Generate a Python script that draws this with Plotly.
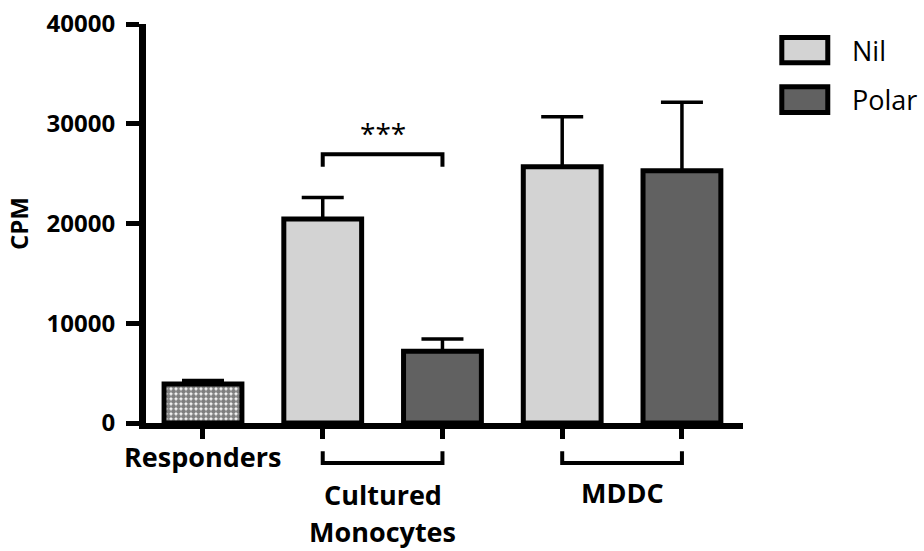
import plotly.graph_objects as go

# ---- data ----
groups = ["Responders", "Cultured<br>Monocytes", "MDDC"]
series = ["Nil", "Polar"]
responders_value = [3900]
responders_err = [350]
nil_values = [20450, 25700]
nil_errs = [2150, 5000]
polar_values = [7200, 25300]
polar_errs = [1220, 6850]
y_ticks = [0, 10000, 20000, 30000, 40000]
sig_label = "***"

# bar positions (numeric slots)
resp_x = [0]
nil_x = [1, 3]
polar_x = [2, 4]
group_centers = [0, 1.5, 3.5]

NIL_COLOR = "#d3d3d3"
POLAR_COLOR = "#616161"
FONT = "Open Sans"
BW = 0.65

fig = go.Figure()

def err(arr):
    return dict(type="data", array=arr, arrayminus=[0] * len(arr), symmetric=False,
                color="black", thickness=3.5, width=21)

fig.add_trace(go.Bar(
    x=resp_x, y=responders_value, width=BW, showlegend=False, name="Responders",
    marker=dict(color="white", line=dict(color="black", width=5),
                pattern=dict(shape=".", fgcolor="black", bgcolor="white", size=5,
                             solidity=0.75, fillmode="overlay")),
    error_y=err(responders_err)))
fig.add_trace(go.Bar(
    x=nil_x, y=nil_values, width=BW, name=series[0], showlegend=False,
    marker=dict(color=NIL_COLOR, line=dict(color="black", width=5)),
    error_y=err(nil_errs)))
fig.add_trace(go.Bar(
    x=polar_x, y=polar_values, width=BW, name=series[1], showlegend=False,
    marker=dict(color=POLAR_COLOR, line=dict(color="black", width=5)),
    error_y=err(polar_errs)))

fig.update_layout(
    width=924, height=551,
    margin=dict(l=146, r=181, t=24, b=128, pad=0, autoexpand=False),
    plot_bgcolor="white", paper_bgcolor="white",
    barmode="overlay",
    font=dict(family=FONT, color="black"),
    xaxis=dict(range=[-0.476, 4.51], tickvals=resp_x + nil_x + polar_x,
               ticktext=[""] * 5, ticks="outside", ticklen=10, tickwidth=5,
               tickcolor="black", showline=True, linecolor="black", linewidth=6,
               showgrid=False, zeroline=False, automargin=False),
    yaxis=dict(range=[0, 40000], tickvals=y_ticks, tickformat="d",
               ticks="outside", ticklen=13, tickwidth=5, tickcolor="black",
               showline=True, linecolor="black", linewidth=7, showgrid=False,
               zeroline=False, ticklabelstandoff=6, automargin=False,
               tickfont=dict(family=FONT, size=24, color="black", weight="bold"),
               title=dict(text="<b>CPM</b>", font=dict(family=FONT, size=24), standoff=14)),
)

# significance bracket between cultured Nil and Polar
sig_y = 26950
sig_drop = 1250
fig.add_shape(type="path", xref="x", yref="y",
              path=f"M {nil_x[0]},{sig_y - sig_drop} L {nil_x[0]},{sig_y} L {polar_x[0]},{sig_y} L {polar_x[0]},{sig_y - sig_drop}",
              line=dict(color="black", width=4))
fig.add_annotation(x=(nil_x[0] + polar_x[0]) / 2, y=sig_y, xref="x", yref="y",
                   text=sig_label, showarrow=False, yanchor="bottom", yshift=0,
                   font=dict(family=FONT, size=28, color="black"))

# group brackets under axis
for a, b in zip(nil_x, polar_x):
    fig.add_shape(type="path", xref="x", yref="paper",
                  path=f"M {a},-0.071 L {a},-0.1 L {b},-0.1 L {b},-0.071",
                  line=dict(color="black", width=4))

# group labels (one annotation per text line)
label_y = [-0.084, -0.178, -0.175]
for gx, gl, gy in zip(group_centers, groups, label_y):
    for i, line in enumerate(gl.split("<br>")):
        fig.add_annotation(x=gx, y=gy, xref="x", yref="paper", text=f"<b>{line}</b>",
                           showarrow=False, xanchor="center", yanchor="middle",
                           yshift=-37 * i,
                           font=dict(family=FONT, size=27, color="black"))

# legend (manual)
leg = [(series[0], NIL_COLOR, 0.966, 0.903), (series[1], POLAR_COLOR, 0.843, 0.778)]
for name, col, y1, y0 in leg:
    fig.add_shape(type="rect", xref="paper", yref="paper", x0=1.065, x1=1.142,
                  y0=y0, y1=y1, fillcolor=col, line=dict(color="black", width=5))
    fig.add_annotation(x=1.180, y=(y0 + y1) / 2, xref="paper", yref="paper",
                       text=name, showarrow=False, xanchor="left", yanchor="middle",
                       font=dict(family=FONT, size=27, color="black"))

fig.write_html("out.html", config={"displayModeBar": False},
               post_script="document.body.style.margin='0';")
